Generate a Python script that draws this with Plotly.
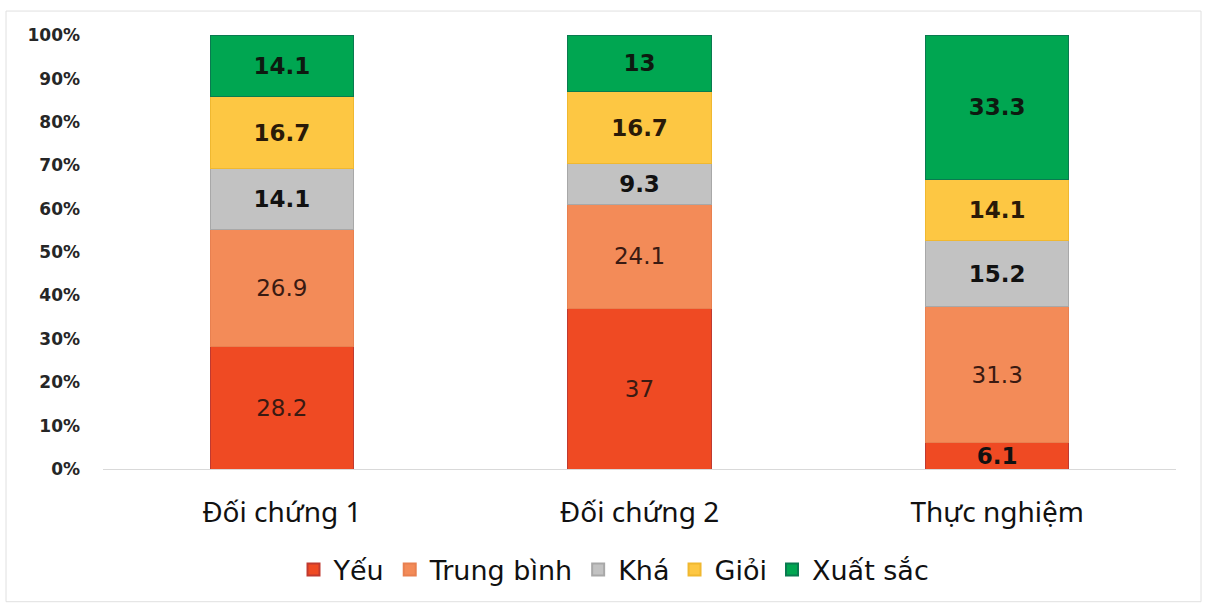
import plotly.graph_objects as go

categories = ["Đối chứng 1", "Đối chứng 2", "Thực nghiệm"]
series_names = ["Yếu", "Trung bình", "Khá", "Giỏi", "Xuất sắc"]
yeu = [28.2, 37, 6.1]
trung_binh = [26.9, 24.1, 31.3]
kha = [14.1, 9.3, 15.2]
gioi = [16.7, 16.7, 14.1]
xuat_sac = [14.1, 13, 33.3]
y_ticks = [0, 10, 20, 30, 40, 50, 60, 70, 80, 90, 100]
y_tick_labels = [f"{t}%" for t in y_ticks]

series_values = [yeu, trung_binh, kha, gioi, xuat_sac]
colors = ["#EF4A23", "#F38B58", "#C2C2C2", "#FDC743", "#00A651"]
line_colors = ["#C03A30", "#E88050", "#A8A8A8", "#F0B830", "#0A7A50"]
text_colors = [
    ["#3A1A12", "#3A1A12", "#111111"],
    ["#3A1A12", "#3A1A12", "#3A1A12"],
    ["#111111", "#111111", "#111111"],
    ["#2A1A08", "#2A1A08", "#2A1A08"],
    ["#0D1A10", "#0D1A10", "#0D1A10"],
]
text_weights = [
    ["normal", "normal", "bold"],
    ["normal", "normal", "normal"],
    ["bold", "bold", "bold"],
    ["bold", "bold", "bold"],
    ["bold", "bold", "bold"],
]

fig = go.Figure()
for name, vals, c, lc, tc, tw in zip(series_names, series_values, colors, line_colors, text_colors, text_weights):
    fig.add_trace(go.Bar(
        x=categories, y=vals, name=name,
        marker=dict(color=c, line=dict(color=lc, width=1)),
        text=[f"{v:g}" for v in vals],
        textposition="inside", insidetextanchor="middle", textangle=0,
        constraintext="none",
        textfont=dict(family="DejaVu Sans", size=23, color=tc, weight=tw),
        cliponaxis=False,
    ))

L, R, T, B = 103, 30, 35, 135
W, H = 1206, 605
pw, ph = W - L - R, H - T - B

fig.update_layout(
    width=W, height=H,
    barmode="stack", barnorm="percent", bargap=0.6,
    paper_bgcolor="white", plot_bgcolor="white",
    margin=dict(l=L, r=R, t=T, b=B),
    uniformtext=dict(minsize=23, mode="show"),
    showlegend=True,
    legend=dict(orientation="h", x=(614 - L) / pw, xanchor="center",
                y=-(570 - (T + ph)) / ph, yanchor="middle",
                font=dict(family="DejaVu Sans", size=27, color="#111111"),
                itemsizing="constant", traceorder="normal"),
    xaxis=dict(showgrid=False, showline=True, linecolor="#D9D9D9", linewidth=1,
               ticks="", tickfont=dict(family="Noto Sans", size=28, color="#111111"),
               ticklabelstandoff=18),
    yaxis=dict(range=[0, 100.05], tickvals=y_ticks, ticktext=y_tick_labels, showgrid=False,
               zeroline=False, showline=False, ticks="",
               tickfont=dict(family="DejaVu Sans", size=17, color="#262626", weight="bold"),
               ticklabelstandoff=22),
    shapes=[dict(type="rect", xref="paper", yref="paper",
                 x0=(6 - L) / pw, x1=(1201 - L) / pw,
                 y0=-(603 - (T + ph)) / ph, y1=1 + (T - 11) / ph,
                 line=dict(color="#E0E0E0", width=1), layer="below")],
)

fig.write_html("out.html")
